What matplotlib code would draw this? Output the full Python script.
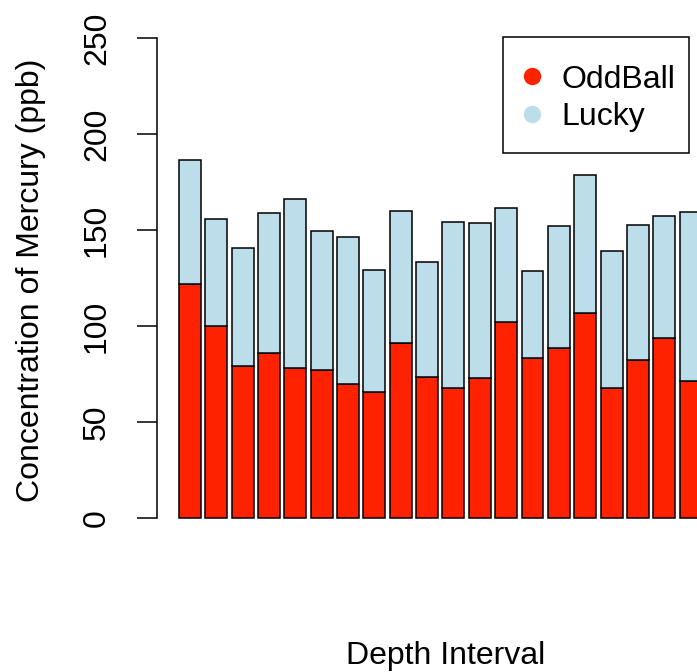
import numpy as np
import matplotlib
matplotlib.use("Agg")
import matplotlib.pyplot as plt
from matplotlib.lines import Line2D
from matplotlib.patches import Rectangle

plt.rcParams['font.family'] = ['Liberation Sans', 'DejaVu Sans']

# values (ppb)
oddball = [121.9, 100.2, 79.3, 86.1, 78.1, 77.2, 69.6, 65.8, 91.3, 73.4,
           67.5, 72.9, 102.2, 83.5, 88.7, 106.6, 67.5, 82.5, 93.6, 71.2]
total = [186.5, 155.7, 140.8, 158.9, 166.1, 149.6, 146.5, 129.2, 159.7, 133.3,
         154.2, 153.8, 161.5, 128.6, 151.9, 178.8, 139.2, 152.4, 157.3, 159.4]
lucky = [t - o for t, o in zip(total, oddball)]
yticks = [0, 50, 100, 150, 200, 250]

red = '#FF2200'
blue = '#BBDEEA'

W, H = 697, 672
fig = plt.figure(figsize=(W / 100, H / 100), dpi=100)
ax = fig.add_axes([157 / W, (H - 537.2) / H, (W - 157) / W, (537.2 - 18.8) / H])

x = 0.7 + 1.2 * np.arange(len(oddball))
ax.bar(x, oddball, width=1.0, color=red, edgecolor='black', linewidth=1.1)
ax.bar(x, lucky, width=1.0, bottom=oddball, color=blue, edgecolor='black', linewidth=1.1)

ax.set_xlim(-0.80, 23.79)
ax.set_ylim(-10, 260)
for s in ['top', 'right', 'bottom']:
    ax.spines[s].set_visible(False)
ax.spines['left'].set_bounds(0, 250)
ax.spines['left'].set_linewidth(1.1)
ax.set_xticks([])
ax.set_yticks(yticks)
ax.set_yticklabels([str(v) for v in yticks], rotation=90, va='center')
ax.tick_params(axis='y', length=14.4, width=1.1, pad=18, labelsize=23)

fig.text(31 / W, 1 - 280 / H, 'Concentration of Mercury (ppb)', rotation=90,
         ha='center', va='center', fontsize=23)
fig.text(445.5 / W, 1 - 664 / H, 'Depth Interval', ha='center', va='baseline', fontsize=23)

# legend box (R style square frame) drawn separately from the entries
fig.patches.append(Rectangle((502.7 / W, 1 - 152.7 / H), (689 - 502.7) / W, (152.7 - 37.3) / H,
                             transform=fig.transFigure, facecolor='white',
                             edgecolor='black', linewidth=1.1, zorder=5))
handles = [Line2D([], [], ls='none', marker='o', markersize=11.5, color=red),
           Line2D([], [], ls='none', marker='o', markersize=11.5, color=blue)]
leg = fig.legend(handles, ['OddBall', 'Lucky'], loc='center left',
                 bbox_to_anchor=(523.7 / W, 1 - 98.5 / H), borderaxespad=0,
                 fontsize=23, frameon=False, borderpad=0, handlelength=0.5,
                 handletextpad=0.69, labelspacing=0.25)
leg.set_zorder(6)

fig.savefig('out.png', dpi=100)
